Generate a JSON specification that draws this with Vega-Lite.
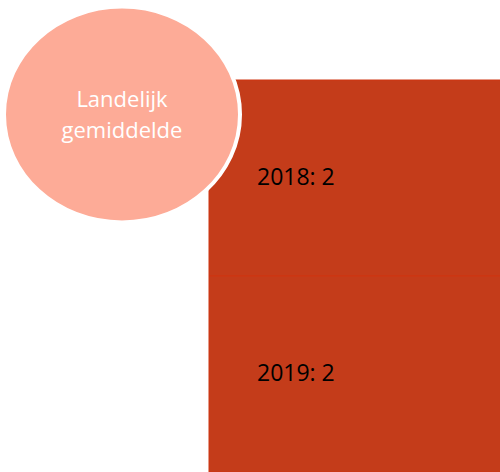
{
  "$schema": "https://vega.github.io/schema/vega-lite/v6.json",
  "width": 500,
  "height": 472,
  "padding": 0,
  "autosize": {"type": "none"},
  "background": "white",
  "config": {"view": {"stroke": null}},
  "datasets": {
    "years": [
      {"year": "2018", "value": 2, "label": "2018: 2"},
      {"year": "2019", "value": 2, "label": "2019: 2"}
    ],
    "avg": [
      {"label": "Landelijk gemiddelde", "cx": 122, "cy": 114.5}
    ]
  },
  "layer": [
    {
      "data": {"name": "years"},
      "layer": [
        {
          "mark": {"type": "bar", "color": "#C43C1A", "stroke": "#CF3510", "strokeWidth": 1},
          "encoding": {
            "y": {"field": "year", "type": "ordinal", "scale": {"range": [80, 472], "paddingInner": 0, "paddingOuter": 0}, "axis": null},
            "x": {"field": "value", "type": "quantitative", "scale": {"domain": [0, 2], "range": [209, 501], "nice": false}, "axis": null}
          }
        },
        {
          "mark": {"type": "text", "align": "left", "baseline": "middle", "dx": 48, "font": "Open Sans", "fontSize": 23, "color": "#000000"},
          "encoding": {
            "y": {"field": "year", "type": "ordinal", "axis": null},
            "x": {"datum": 0, "type": "quantitative"},
            "text": {"field": "label"}
          }
        }
      ]
    },
    {
      "data": {"name": "avg"},
      "layer": [
        {
          "mark": {"type": "point", "shape": "M-1,0A1,0.915,0,1,0,1,0A1,0.915,0,1,0,-1,0Z", "size": 55696, "filled": true, "fill": "#FDAB97", "stroke": "#FFFFFF", "strokeWidth": 4, "opacity": 1, "fillOpacity": 1, "strokeOpacity": 1},
          "encoding": {
            "x": {"field": "cx", "type": "quantitative", "scale": {"domain": [0, 500], "nice": false, "zero": false}, "axis": null},
            "y": {"field": "cy", "type": "quantitative", "scale": {"domain": [0, 472], "reverse": true, "nice": false, "zero": false}, "axis": null}
          }
        },
        {
          "mark": {"type": "text", "align": "center", "baseline": "alphabetic", "dy": -7.5, "lineBreak": " ", "lineHeight": 31, "font": "Open Sans", "fontSize": 22, "color": "#FFFFFF"},
          "encoding": {
            "x": {"field": "cx", "type": "quantitative"},
            "y": {"field": "cy", "type": "quantitative"},
            "text": {"field": "label"}
          }
        }
      ]
    }
  ],
  "resolve": {"scale": {"x": "independent", "y": "independent"}}
}
